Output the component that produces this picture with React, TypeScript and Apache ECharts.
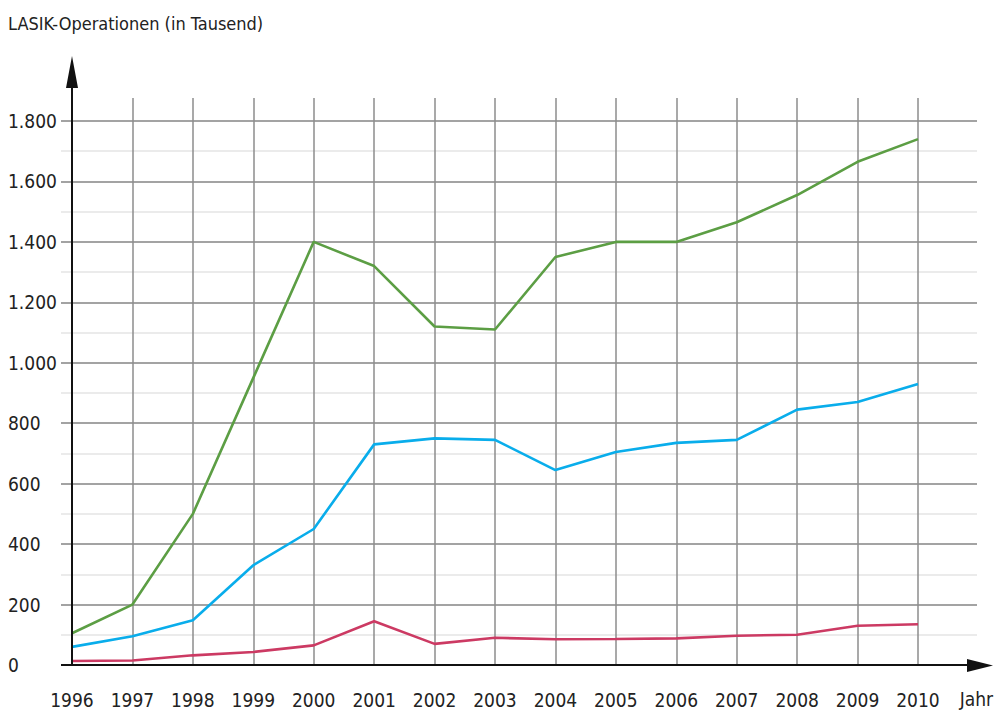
import React, { useEffect, useRef } from "react";
import * as echarts from "echarts";

const years = ["1996","1997","1998","1999","2000","2001","2002","2003","2004","2005","2006","2007","2008","2009","2010"];
const greenSeries = [105, 200, 500, 950, 1400, 1320, 1120, 1110, 1350, 1400, 1400, 1465, 1555, 1665, 1740];
const blueSeries = [60, 95, 148, 330, 450, 730, 750, 745, 645, 705, 735, 745, 845, 870, 930];
const redSeries = [13, 15, 32, 43, 65, 145, 70, 90, 85, 86, 88, 97, 100, 130, 135];
const yTickStep = 100;
const yLabelStep = 200;
const yMax = 1800;

const FONT = "'Liberation Sans Narrow', 'Arial Narrow', 'DejaVu Sans Condensed', Roboto, sans-serif";

function fmt(v: number) {
  return String(v).replace(/\B(?=(\d{3})+(?!\d))/g, ".");
}

export default function App() {
  const ref = useRef<HTMLDivElement>(null);
  useEffect(() => {
    if (!ref.current) return;
    const chart = echarts.init(ref.current, null, { renderer: "svg" });
    chart.setOption({
      animation: false,
      backgroundColor: "#ffffff",
      textStyle: { fontFamily: FONT },
      title: {
        text: "LASIK-Operationen (in Tausend)",
        left: 8,
        top: 14,
        padding: 0,
        textStyle: { fontFamily: FONT, fontSize: 18, fontWeight: "normal", color: "#222" },
      },
      grid: [
        { left: 61, right: 17, top: 121, bottom: 45 },
        { left: 72, right: 76, top: 98, bottom: 45 },
      ],
      xAxis: [
        { gridIndex: 0, type: "value", show: false, min: 0, max: 1 },
        {
          gridIndex: 1,
          type: "category",
          data: years,
          boundaryGap: false,
          axisLine: { show: false },
          axisTick: { show: false },
          axisLabel: { margin: 25, fontSize: 19, color: "#222", fontFamily: FONT, interval: 0 },
          splitLine: { show: true, interval: 0, lineStyle: { color: "#8c8c8c", width: 1.5 } },
        },
      ],
      yAxis: [
        {
          gridIndex: 0,
          type: "value",
          min: 0,
          max: yMax,
          interval: yTickStep,
          axisLine: { show: false },
          axisTick: { show: false },
          axisLabel: {
            align: "left",
            margin: 53,
            fontSize: 19,
            color: "#222",
            fontFamily: FONT,
            formatter: (v: number) => (v % yLabelStep === 0 ? fmt(v) : ""),
          },
          splitLine: { show: true, lineStyle: { color: ["#858585", "#e4e4e4"], width: 1.5 } },
        },
        {
          gridIndex: 1,
          type: "value",
          min: 0,
          max: (yMax * 567) / 544,
          show: false,
          splitLine: { show: false },
        },
      ],
      series: [
        {
          type: "line",
          xAxisIndex: 1,
          yAxisIndex: 1,
          data: greenSeries,
          symbol: "none",
          lineStyle: { color: "#5c9e44", width: 2.6 },
          z: 5,
        },
        {
          type: "line",
          xAxisIndex: 1,
          yAxisIndex: 1,
          data: blueSeries,
          symbol: "none",
          lineStyle: { color: "#09adeb", width: 2.6 },
          z: 5,
        },
        {
          type: "line",
          xAxisIndex: 1,
          yAxisIndex: 1,
          data: redSeries,
          symbol: "none",
          lineStyle: { color: "#cc3a63", width: 2.6 },
          z: 5,
        },
      ],
      graphic: [
        { type: "line", shape: { x1: 72, y1: 665, x2: 72, y2: 80 }, style: { stroke: "#111", lineWidth: 2 }, z: 10 },
        { type: "polygon", shape: { points: [[72, 56], [66, 88], [78, 88]] }, style: { fill: "#111" }, z: 10 },
        { type: "line", shape: { x1: 61, y1: 665, x2: 972, y2: 665 }, style: { stroke: "#111", lineWidth: 2 }, z: 10 },
        { type: "polygon", shape: { points: [[993, 665.5], [967, 659], [967, 672]] }, style: { fill: "#111" }, z: 10 },
        {
          type: "text",
          x: 993,
          y: 689,
          style: { text: "Jahr", fontSize: 19, fontFamily: FONT, fill: "#222", align: "right", verticalAlign: "top" },
          z: 10,
        },
      ],
    });
    return () => chart.dispose();
  }, []);
  return <div ref={ref} style={{ position: "fixed", left: 0, top: 0, width: 994, height: 710 }} />;
}
